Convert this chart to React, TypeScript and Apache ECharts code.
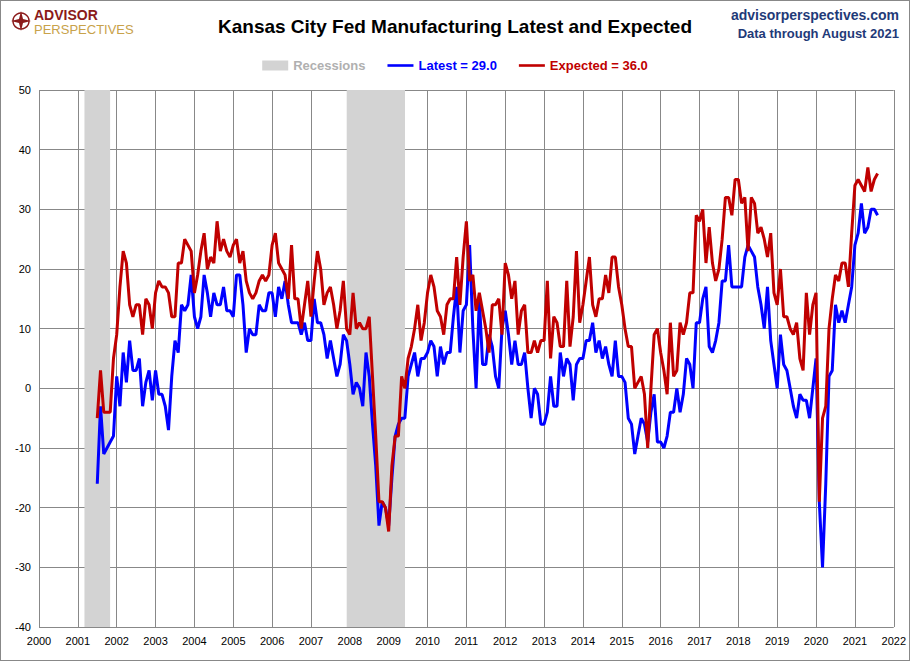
import { useEffect, useRef } from "react";
import * as echarts from "echarts";

// monthly values, first point Jul 2001, last Aug 2021
const startYear = 2001;
const startMonth = 6; // July (0-based)

const latest = [
  -16, -3, -11, -10, -9, -8,
  2, -3, 6, 1, 8, 3, 3, 5, -3, 1, 3, -2,
  3, -1, -1, -3, -7, 2, 8, 6, 14, 13, 14, 19,
  12, 10, 12, 19, 16, 12, 16, 14, 14, 17, 13, 13,
  12, 19, 19, 14, 6, 10, 9, 9, 14, 13, 13, 16,
  16, 12, 17, 15, 18, 14, 11, 11, 11, 9, 11, 8,
  8, 15, 11, 11, 9, 5, 8, 5, 2, 4, 9, 8,
  4, -1, 1, 0, -3, 6, 2, -6, -13, -23, -19, -20,
  -23, -15, -8, -6, -5, -5, 2, 4, 6, 2, 5, 5,
  6, 8, 7, 2, 7, 4, 6, 6, 12, 17, 6, 13,
  14, 24, 10, 0, 15, 4, 4, 9, 7, 2, 0, 10,
  13, 9, 4, 8, 4, 4, 6, 0, -5, 0, -1, -6,
  -6, -4, 2, -3, -3, 6, 2, 5, 4, -2, 4, 5,
  5, 8, 8, 11, 6, 8, 5, 7, 4, 2, 8, 2,
  2, 1, -5, -6, -11, -8, -5, -6, -9, -4, -1, -9,
  -9, -10, -8, -4, -4, 0, -4, -1, 5, 4, 0, 11,
  11, 15, 17, 7, 6, 8, 11, 18, 18, 24, 17, 17,
  17, 17, 22, 24, 23, 22, 17, 14, 10, 17, 8, 4,
  0, 9, 4, 3, 0, -3, -5, -1, -2, -2, -5, 0,
  5, -19, -30, -16, 2, 3, 14, 11, 13, 11, 14, 17,
  24, 26, 31, 26, 27, 30, 30, 29,
];

const expected = [
  -5, 3, -4, -4, -4, 5,
  9, 17, 23, 21, 14, 12, 14, 14, 9, 15, 14, 10,
  16, 18, 17, 17, 16, 12, 12, 21, 21, 25, 24, 23,
  16, 19, 23, 26, 20, 22, 21, 28, 23, 25, 23, 22,
  24, 25, 21, 23, 18, 16, 15, 16, 18, 19, 18, 19,
  24, 26, 21, 20, 19, 15, 24, 15, 15, 10, 14, 18,
  12, 18, 23, 20, 14, 16, 17, 14, 10, 13, 18, 10,
  9, 16, 10, 11, 10, 10, 12, 2, -8, -19, -19, -20,
  -24, -13, -8, -8, 2, 0, 5, 7, 10, 14, 8, 11,
  16, 19, 17, 13, 12, 9, 14, 15, 15, 22, 14, 22,
  28, 18, 19, 13, 16, 13, 10, 6, 14, 14, 15, 9,
  21, 19, 15, 18, 9, 13, 14, 6, 6, 8, 6, 8,
  8, 18, 5, 12, 11, 7, 7, 18, 7, 12, 23, 11,
  14, 18, 22, 14, 12, 15, 15, 19, 16, 22, 22, 17,
  14, 10, 7, 7, 0, 1, 2, -1, -10, 0, 9, 10,
  6, 3, -1, 11, 2, 3, 11, 9, 11, 16, 16, 29,
  28, 30, 21, 27, 21, 18, 20, 25, 32, 32, 29, 35,
  35, 31, 32, 23, 32, 31, 26, 27, 25, 22, 26, 16,
  14, 20, 12, 12, 10, 9, 11, 5, 3, 16, 9, 14,
  16, -19, -5, -3, 10, 15, 19, 18, 21, 21, 17, 26,
  34, 35, 34, 33, 37, 33, 35, 36,
];

const recessions = [
  [2001.17, 2001.83],
  [2007.92, 2009.42],
];

const toPoints = (vals: number[]) =>
  vals.map((v, i) => [startYear + (startMonth + i) / 12, v]);

const lineIcon = "path://M0,0H30V3H0Z";

const App = () => {
  const chartRef = useRef<HTMLDivElement>(null);

  useEffect(() => {
    document.body.style.margin = "0";
    if (!chartRef.current) return;
    const myChart = echarts.init(chartRef.current, null, { renderer: "svg" });
    myChart.setOption({
      animation: false,
      textStyle: { fontFamily: "Liberation Sans, Arial, sans-serif" },
      title: [
        {
          text: "Kansas City Fed Manufacturing Latest and Expected",
          left: "center",
          top: 11,
          textStyle: { fontSize: 19, fontWeight: "bold", color: "#000" },
        },
      ],
      graphic: [
        {
          type: "circle",
          shape: { cx: 20, cy: 20, r: 8 },
          style: { fill: "none", stroke: "#8b1a1a", lineWidth: 1.5 },
        },
        {
          type: "polygon",
          shape: { points: [[20, 10], [22, 18], [30, 20], [22, 22], [20, 30], [18, 22], [10, 20], [18, 18]] },
          style: { fill: "#8b1a1a" },
        },
        {
          type: "text",
          x: 33,
          y: 7,
          style: { text: "ADVISOR", fill: "#8b1a1a", font: "bold 14px Liberation Sans", verticalAlign: "top" },
        },
        {
          type: "text",
          x: 33,
          y: 22,
          style: { text: "PERSPECTIVES", fill: "#c8a24a", font: "13px Liberation Sans", verticalAlign: "top" },
        },
        {
          type: "text",
          right: 10,
          y: 7,
          style: { text: "advisorperspectives.com", fill: "#1f3a78", font: "bold 14px Liberation Sans", textAlign: "right" },
        },
        {
          type: "text",
          right: 10,
          y: 26,
          style: { text: "Data through August 2021", fill: "#1f3a78", font: "bold 13px Liberation Sans", textAlign: "right" },
        },
      ],
      legend: {
        top: 53,
        left: "center",
        itemGap: 22,
        itemWidth: 26,
        itemHeight: 10,
        textStyle: { fontWeight: "bold", fontSize: 13 },
        data: [
          { name: "Recessions", icon: "rect", textStyle: { color: "#b0b0b0" } },
          { name: "Latest = 29.0", icon: lineIcon, itemStyle: { color: "#0000ff" }, textStyle: { color: "#0000ff" } },
          { name: "Expected = 36.0", icon: lineIcon, itemStyle: { color: "#c00000" }, textStyle: { color: "#c00000" } },
        ],
      },
      grid: { left: 38, right: 12, top: 89, bottom: 33 },
      xAxis: {
        type: "value",
        min: 2000,
        max: 2022,
        interval: 1,
        axisLine: { show: false },
        axisTick: { show: false },
        splitLine: { lineStyle: { color: "#888", width: 1 } },
        axisLabel: { color: "#000", fontSize: 11, formatter: (v: number) => String(v) },
      },
      yAxis: {
        type: "value",
        min: -40,
        max: 50,
        interval: 10,
        axisLine: { show: false },
        axisTick: { show: false },
        splitLine: { lineStyle: { color: "#888", width: 1 } },
        axisLabel: { color: "#000", fontSize: 11 },
      },
      series: [
        {
          name: "Recessions",
          type: "bar",
          data: [],
          itemStyle: { color: "#d3d3d3" },
          markArea: {
            silent: true,
            itemStyle: { color: "#d3d3d3" },
            data: recessions.map(([a, b]) => [{ xAxis: a }, { xAxis: b }]),
          },
        },
        {
          name: "Latest = 29.0",
          type: "line",
          data: toPoints(latest),
          symbol: "none",
          lineStyle: { color: "#0000ff", width: 3 },
          itemStyle: { color: "#0000ff" },
          z: 3,
        },
        {
          name: "Expected = 36.0",
          type: "line",
          data: toPoints(expected),
          symbol: "none",
          lineStyle: { color: "#c00000", width: 3 },
          itemStyle: { color: "#c00000" },
          z: 4,
        },
      ],
    });
    return () => {
      myChart.dispose();
    };
  }, []);

  return (
    <div
      ref={chartRef}
      style={{ width: "910px", height: "661px", boxSizing: "border-box", border: "1px solid #888" }}
    ></div>
  );
};

export default App;
